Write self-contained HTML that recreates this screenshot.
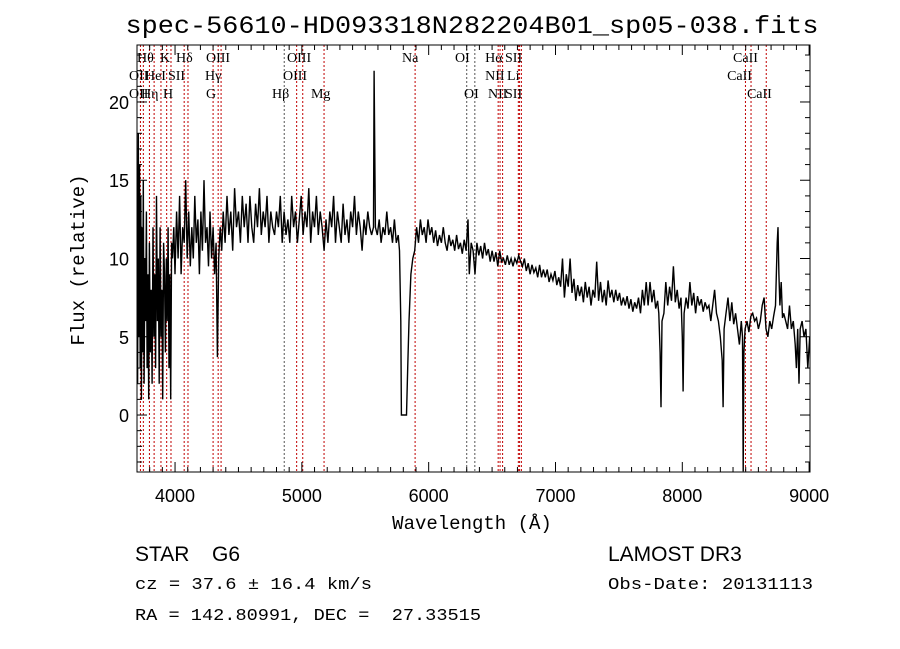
<!DOCTYPE html>
<html><head><meta charset="utf-8"><style>
html,body{margin:0;padding:0;background:#fff;}
svg{display:block;}
text{font-family:"Liberation Sans",sans-serif;fill:#000;white-space:pre;}
.lab{font-family:"Liberation Serif",serif;font-size:14px;}
.mono{font-family:"Liberation Mono",monospace;}
</style></head><body>
<svg id="chart" width="900" height="649" viewBox="0 0 900 649" xmlns="http://www.w3.org/2000/svg">
<text x="472" y="33" text-anchor="middle" font-size="25" textLength="693" lengthAdjust="spacingAndGlyphs" class="mono">spec-56610-HD093318N282204B01_sp05-038.fits</text>
<g id="lines"></g>
<g id="labels"></g>
<g id="spec"></g>
<g id="axes"></g>
<text x="472" y="529" text-anchor="middle" font-size="19" class="mono">Wavelength (Å)</text>
<text transform="translate(84,260) rotate(-90)" text-anchor="middle" font-size="19" class="mono">Flux (relative)</text>
<text x="135" y="561" font-size="21">STAR</text>
<text x="212" y="561" font-size="21">G6</text>
<text x="135" y="589" font-size="17" class="mono" textLength="237" lengthAdjust="spacingAndGlyphs">cz = 37.6 ± 16.4 km/s</text>
<text x="135" y="620" font-size="17" class="mono" textLength="346" lengthAdjust="spacingAndGlyphs">RA = 142.80991, DEC =  27.33515</text>
<text x="608" y="561" font-size="21">LAMOST DR3</text>
<text x="608" y="589" font-size="17" class="mono" textLength="205" lengthAdjust="spacingAndGlyphs">Obs-Date: 20131113</text>
</svg>
<script>
const spectrum=[
[3705,2],[3710,18],[3715,5],[3720,16],[3725,3],[3730,14],[3735,1],[3740,12],[3745,4],[3750,15],[3756,2],[3762,10],[3768,6],[3774,13],[3780,3],[3786,9],[3792,1],[3798,11],[3805,4],[3812,8],[3819,2],[3826,12],[3833,5],[3840,9],[3847,3],[3854,14],[3861,6],[3868,10],[3875,2],[3882,12],[3889,5],[3896,8],[3903,1],[3910,11],[3917,9],[3924,4],[3931,10],[3938,6],[3945,12],[3952,3],[3959,9],[3966,1],[3973,11],[3980,10],[3990,12],[4000,9],[4012,13],[4024,10],[4036,14],[4048,9],[4060,12],[4072,11],[4084,15],[4096,10],[4108,13],[4120,9.5],[4132,12],[4144,10],[4156,14],[4168,11],[4180,12.5],[4192,9],[4204,13],[4216,10.5],[4228,15],[4240,11],[4252,12],[4264,9.5],[4276,13],[4288,10],[4300,12],[4312,9],[4324,11],[4334,3.7],[4344,10],[4356,12],[4368,10.5],[4380,13],[4395,11],[4410,14],[4425,11.5],[4440,13],[4455,10.5],[4470,14.5],[4485,12],[4500,13],[4515,11],[4530,14],[4545,12],[4560,13.5],[4575,11],[4590,14],[4605,12],[4620,11],[4635,13.5],[4650,12],[4665,14.5],[4680,11.5],[4695,13],[4710,12],[4725,14],[4740,11],[4755,13],[4770,12],[4785,11.5],[4800,13],[4815,12],[4830,14],[4845,11],[4860,13],[4875,11.5],[4890,12.5],[4905,11],[4920,14],[4935,12],[4950,13],[4965,11],[4980,12.5],[4995,14],[5010,11.5],[5025,13],[5040,12],[5055,14.5],[5070,11],[5085,13],[5100,12],[5115,14],[5130,11.5],[5145,13],[5160,12],[5175,10.5],[5190,12.5],[5205,11],[5220,13],[5235,12],[5250,14],[5265,11],[5280,13],[5295,12],[5310,11],[5325,13.5],[5340,11.5],[5355,12.5],[5370,11],[5385,13],[5400,12],[5415,14],[5430,11.5],[5445,13],[5460,12],[5475,10.5],[5490,12.5],[5505,11.5],[5520,13],[5535,12],[5550,11.5],[5565,12],[5570,22],[5580,12],[5595,11.5],[5610,12.5],[5625,11],[5640,12],[5655,11.5],[5670,13],[5685,11.5],[5700,12],[5715,11],[5730,12.5],[5745,11],[5760,11.5],[5770,10.5],[5780,6],[5785,0],[5825,0],[5835,3],[5845,6],[5860,9],[5875,10],[5890,10.5],[5905,12],[5920,11],[5935,12.5],[5950,11.5],[5965,12],[5980,11],[5995,12.5],[6010,11.5],[6025,12],[6040,11],[6055,11.8],[6070,10.8],[6085,11.5],[6100,11],[6115,12],[6130,11],[6145,10.5],[6160,11.5],[6175,10.8],[6190,11.2],[6205,10.5],[6220,11.5],[6235,10.6],[6250,11],[6265,10.3],[6280,11.2],[6295,10.5],[6310,12.5],[6320,9],[6335,11],[6350,10.5],[6365,9],[6380,11],[6395,10.2],[6410,10.8],[6425,10],[6440,11],[6455,10.2],[6470,10.6],[6485,9.8],[6500,10.5],[6515,9.8],[6530,10.4],[6545,9.5],[6560,10.5],[6575,9.8],[6590,10],[6605,9.6],[6620,10.2],[6635,9.6],[6650,10],[6665,9.5],[6680,10],[6695,9.7],[6710,10.2],[6725,9.8],[6740,9.5],[6755,10],[6770,9.2],[6785,9.7],[6800,9],[6815,9.6],[6830,9.1],[6845,9.4],[6860,8.8],[6875,9.6],[6890,8.8],[6905,9.3],[6920,8.8],[6935,9.3],[6950,8.5],[6965,9],[6980,8.6],[6995,9.2],[7010,8.3],[7025,8.8],[7040,8.2],[7055,10],[7070,7.5],[7085,9],[7100,8.2],[7115,10],[7130,7.8],[7145,8.7],[7160,7.3],[7175,8.3],[7190,7.6],[7205,8.2],[7220,7.2],[7235,8.5],[7250,7.5],[7265,8.2],[7280,7],[7295,8],[7310,7.5],[7325,9.8],[7340,7.3],[7355,8.5],[7370,7.2],[7385,8],[7400,7],[7415,8.6],[7430,7.5],[7445,8],[7460,7.2],[7475,8],[7490,7.3],[7505,7.8],[7520,7],[7535,7.5],[7550,7],[7565,7.6],[7580,6.8],[7595,7.4],[7610,6.6],[7625,7.2],[7640,6.8],[7655,7.5],[7670,6.5],[7685,8],[7700,7],[7715,8.5],[7730,7],[7745,8.5],[7760,7.2],[7775,8],[7790,6.8],[7805,7.3],[7815,6.5],[7825,4],[7832,0.5],[7840,6],[7855,6.5],[7870,8.5],[7885,7],[7900,8.2],[7915,7.3],[7930,9.5],[7945,7.2],[7960,8],[7975,6.8],[7990,7.5],[8000,5],[8006,1.5],[8014,6.5],[8030,7.5],[8045,6.8],[8060,8.5],[8075,7],[8090,7.8],[8105,6.5],[8120,7.6],[8135,7],[8150,7.4],[8165,6.6],[8180,7.2],[8195,6.8],[8210,7],[8225,6],[8240,7],[8255,8],[8270,6.5],[8285,6],[8300,5],[8315,3.5],[8322,0.5],[8330,5.5],[8345,6.5],[8360,7.5],[8375,6],[8390,7.2],[8405,5.8],[8420,6.5],[8435,5.5],[8450,4.5],[8465,6],[8475,5],[8480,-3.6],[8486,4],[8495,5.5],[8510,6],[8525,5.3],[8540,6.3],[8555,6.5],[8570,6],[8585,6.2],[8600,5.5],[8615,6],[8630,7],[8645,7.5],[8660,5.5],[8675,5],[8690,6],[8705,5.5],[8720,6.3],[8735,7],[8748,11],[8755,12],[8762,9],[8770,7],[8780,8.5],[8790,6.2],[8800,6.5],[8815,6],[8830,5.5],[8845,7],[8860,5.5],[8875,6],[8890,4.5],[8900,3],[8910,5.5],[8920,2],[8930,5.5],[8945,6],[8960,5],[8975,5.5],[8990,3],[9005,5]];
const lineWaves=[3727,3750,3798,3835,3889,3934,3968,4072,4102,4300,4340,4363,4861,4959,5007,5175,5893,6300,6364,6548,6563,6583,6707,6717,6731,8498,8542,8662];
const lineBlack=[4861,6300,6364];
const labelText=["Hθ","K","Hδ","OIII","OIII","Na","OI","Hα","SII","CaII","OII","HeI","SII","Hγ","OIII","NII","Li","CaII","OII","Hη","H","G","Hβ","Mg","OI","NII","SII","CaII"];
const labelWave=[3700,3881,4008,4244,4883,5790,6208,6445,6602,8400,3637,3763,3944,4236,4851,6445,6618,8353,3637,3732,3905,4244,4765,5072,6279,6468,6602,8510];
const labelRow=[0,0,0,0,0,0,0,0,0,0,1,1,1,1,1,1,1,1,2,2,2,2,2,2,2,2,2,2];
const xTicks=[4000,5000,6000,7000,8000,9000];
const yTicks=[0,5,10,15,20];
const L=137,R=810,T=45,B=472,X0=3700,X1=9007,Y0=-3.64,Y1=23.64;
const sx=w=>L+(w-X0)/(X1-X0)*(R-L);
const sy=f=>B-(f-Y0)/(Y1-Y0)*(B-T);
const NS="http://www.w3.org/2000/svg";
function mk(tag,parent,attrs){const e=document.createElementNS(NS,tag);for(const k in attrs)e.setAttribute(k,attrs[k]);parent.appendChild(e);return e;}
const gl=document.getElementById('lines');
lineWaves.forEach(w=>{const e=mk('line',gl,{x1:sx(w),x2:sx(w),y1:T,y2:B,stroke:lineBlack.includes(w)?'#555':'#c00000','stroke-width':1,'stroke-dasharray':'2,2'});

});
const glb=document.getElementById('labels');
labelText.forEach((t,i)=>{const e=mk('text',glb,{x:sx(labelWave[i]),y:62+labelRow[i]*18,'class':'lab'});e.textContent=t;

});
const gs=document.getElementById('spec');
let d='';spectrum.forEach((pt,i)=>{d+=(i?'L':'M')+sx(pt[0]).toFixed(1)+','+Math.max(T,Math.min(B,sy(pt[1]))).toFixed(1);});
const p=mk('path',gs,{d:d,fill:'none',stroke:'#000','stroke-width':1.4});


const ga=document.getElementById('axes');
const fr=mk('rect',ga,{x:L,y:T,width:R-L,height:B-T,fill:'none',stroke:'#000','stroke-width':1});


for(let w=3800;w<=X1;w+=100){const maj=w%1000===0,len=maj?10:5,x=sx(w);
mk('line',ga,{x1:x,x2:x,y1:B,y2:B-len,stroke:'#000'});mk('line',ga,{x1:x,x2:x,y1:T,y2:T+len,stroke:'#000'});}
for(let f=-3;f<=23;f++){const maj=f%5===0,len=maj?10:5,y=sy(f);
mk('line',ga,{x1:L,x2:L+len,y1:y,y2:y,stroke:'#000'});mk('line',ga,{x1:R,x2:R-len,y1:y,y2:y,stroke:'#000'});}
xTicks.forEach(w=>{const e=mk('text',ga,{x:sx(w),y:502,'text-anchor':'middle','font-size':18});e.textContent=w;

});
yTicks.forEach(f=>{const e=mk('text',ga,{x:129,y:sy(f)+7,'text-anchor':'end','font-size':18});e.textContent=f;

});
</script>
</body></html>
